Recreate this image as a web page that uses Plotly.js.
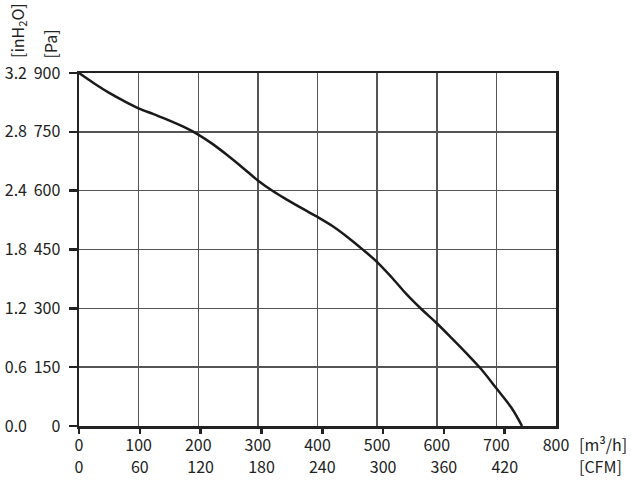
<!DOCTYPE html>
<html>
<head>
<meta charset="utf-8">
<script src="https://cdn.plot.ly/plotly-3.0.1.min.js"></script>
<style>html,body{margin:0;padding:0;background:#fff;}#chart{width:631px;height:486px;}</style>
</head>
<body>
<div id="chart"></div>
<script>
// Airflow (m³/h) vs static pressure (Pa)
const flow = [0, 25, 50, 75, 100, 125, 150, 175, 200, 225, 250, 275, 300, 325, 350, 375, 400, 425, 450, 475, 500, 525, 550, 575, 600, 625, 650, 675, 700, 725, 743];
const pressure = [900, 874, 850, 829, 810, 795, 780, 763, 743, 718, 689, 658, 626, 599, 576, 554, 533, 510, 482, 451, 418, 378, 335, 297, 262, 224, 185, 144, 96, 47, 0];

const flowTicks = [0, 100, 200, 300, 400, 500, 600, 700, 800];
const cfmTicks = [0, 60, 120, 180, 240, 300, 360, 420];
const paTicks = [0, 150, 300, 450, 600, 750, 900];
const inH2OLabels = ['0.0', '0.6', '1.2', '1.8', '2.4', '2.8', '3.2'];
const CFM_TO_M3H = 1.7;

const fontFam = '"Noto Sans CJK SC", "Noto Sans", sans-serif';
const txt = '#222';
const fs = 16;

const traces = [
  {
    x: flow, y: pressure, type: 'scatter', mode: 'lines',
    line: {color: '#1a1a1a', width: 2.5, shape: 'spline', smoothing: 1},
    hoverinfo: 'skip', showlegend: false
  },
  {
    x: cfmTicks, y: cfmTicks.map(() => null), xaxis: 'x2', yaxis: 'y2',
    type: 'scatter', mode: 'lines', hoverinfo: 'skip', showlegend: false
  }
];

const layout = {
  width: 631, height: 486,
  margin: {l: 79, r: 75, t: 73, b: 60},
  paper_bgcolor: '#fff', plot_bgcolor: '#fff',
  font: {family: fontFam, size: fs, color: txt},
  showlegend: false,
  xaxis: {
    range: [0, 800], tickvals: flowTicks, ticks: '',
    showgrid: true, gridcolor: '#555', gridwidth: 1.5,
    showline: true, mirror: true, linecolor: '#222', linewidth: 2.5,
    zeroline: false, ticklabelstandoff: 3, fixedrange: true
  },
  xaxis2: {
    overlaying: 'x', anchor: 'y', side: 'bottom',
    range: [0, 800 / CFM_TO_M3H], tickvals: cfmTicks,
    ticks: 'outside', ticklen: 7, tickwidth: 2.5, tickcolor: '#222',
    showgrid: false, zeroline: false, showline: false,
    ticklabelstandoff: 20, fixedrange: true
  },
  yaxis: {
    range: [0, 900], tickvals: paTicks,
    ticks: 'outside', ticklen: 8, tickwidth: 2.5, tickcolor: '#222',
    showgrid: true, gridcolor: '#555', gridwidth: 1.5,
    showline: true, mirror: true, linecolor: '#222', linewidth: 2.5,
    zeroline: false, ticklabelstandoff: 5, fixedrange: true
  },
  yaxis2: {
    overlaying: 'y', anchor: 'x', side: 'left',
    range: [0, 900], tickvals: paTicks, ticktext: inH2OLabels,
    ticks: '', showgrid: false, zeroline: false, showline: false,
    ticklabelstandoff: 51, fixedrange: true
  },
  annotations: [
    {text: '[inH<sub>2</sub>O]', xref: 'paper', yref: 'paper', x: -0.129, y: 1.0368,
     xanchor: 'center', yanchor: 'bottom', textangle: -90, showarrow: false,
     font: {family: fontFam, size: fs, color: txt}},
    {text: '[Pa]', xref: 'paper', yref: 'paper', x: -0.061, y: 1.0368,
     xanchor: 'center', yanchor: 'bottom', textangle: -90, showarrow: false,
     font: {family: fontFam, size: fs, color: txt}},
    {text: '[m³/h]', xref: 'paper', yref: 'paper', x: 1.044, y: -0.051,
     xanchor: 'left', yanchor: 'middle', showarrow: false,
     font: {family: fontFam, size: fs, color: txt}},
    {text: '[CFM]', xref: 'paper', yref: 'paper', x: 1.044, y: -0.113,
     xanchor: 'left', yanchor: 'middle', showarrow: false,
     font: {family: fontFam, size: fs, color: txt}}
  ]
};

Plotly.newPlot('chart', traces, layout, {staticPlot: true, displayModeBar: false});
</script>
</body>
</html>
